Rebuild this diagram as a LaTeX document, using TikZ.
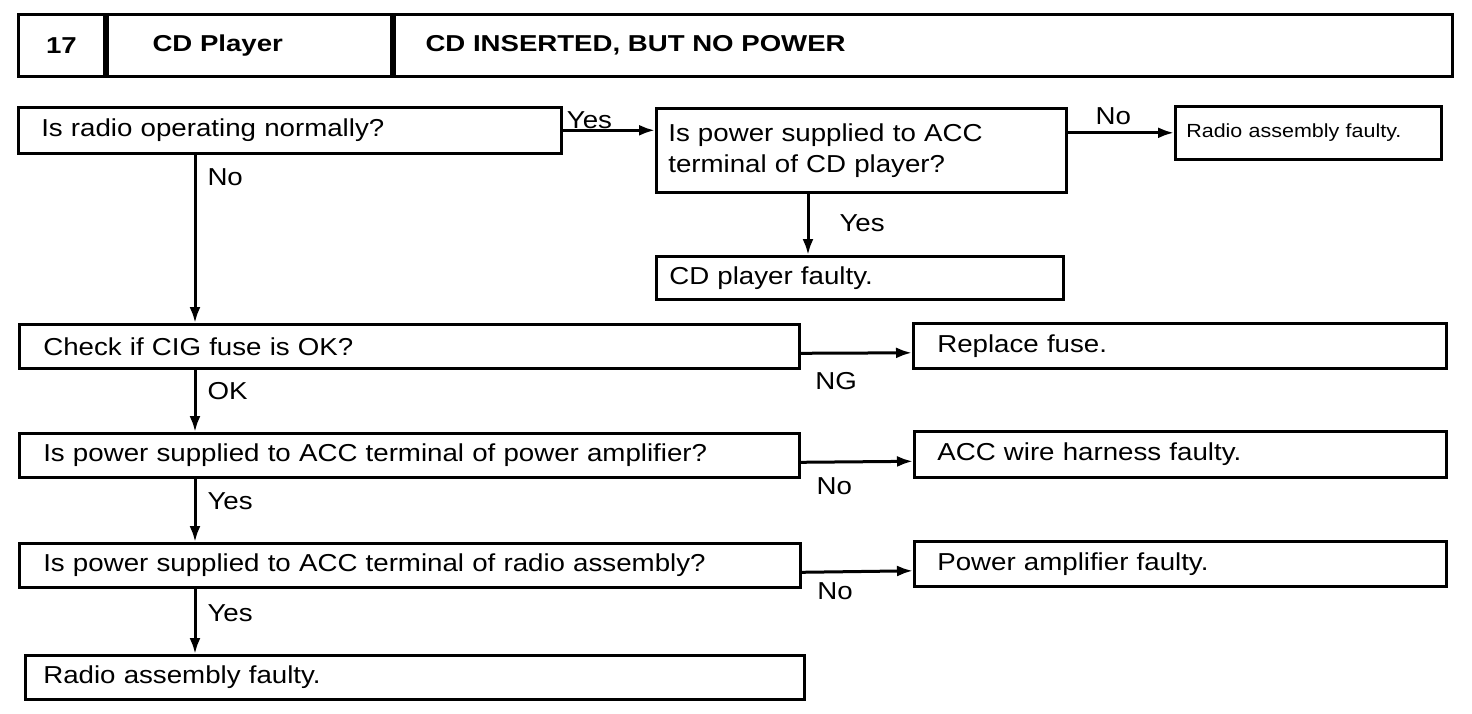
\documentclass[tikz,border=0pt]{standalone}
\usepackage{fontspec}
\setmainfont{Liberation Sans}[FakeStretch=1.13]
\newfontfamily\headfont{Liberation Sans}[FakeStretch=1.2]
\usetikzlibrary{arrows.meta}

\begin{document}
\begin{tikzpicture}[x=1pt, y=-1pt,
    box/.style={draw, line width=2.6pt, anchor=north west, align=left, inner ysep=3pt, font=\fontsize{24.5}{31}\selectfont},
    cell/.style={draw, line width=3pt, anchor=north west, minimum height=62pt, inner sep=0pt, font=\headfont\bfseries\fontsize{23}{28}\selectfont},
    arr/.style={-{Latex[length=16pt,width=11pt]}, line width=3pt},
    lbl/.style={inner sep=2pt, font=\fontsize{24.5}{31}\selectfont}]

\useasboundingbox (0,0) rectangle (1472,714);

% header
\node (hnum) at (17,13) [cell, minimum width=86pt] {17};
\node (hsys) at (hnum.north east) [cell, align=left, text width=194pt, inner xsep=45pt] {CD Player};
\node (htitle) at (hsys.north east) [cell, align=left, text width=996pt, inner xsep=31pt] {CD INSERTED, BUT NO POWER};

% questions and results
\node (q1) at (17,106) [box, text width=497pt, inner xsep=23pt, minimum height=46pt] {Is radio operating normally?};
\node (q2) at (655,107) [box, text width=386pt, inner xsep=12pt, minimum height=84pt] {Is power supplied to ACC\\terminal of CD player?};
\node (r1) at (655,255) [box, text width=381pt, inner xsep=13pt, minimum height=43pt] {CD player faulty.};
\node (r2) at (1174,105) [box, text width=244pt, inner xsep=11pt, minimum height=53pt, font=\fontsize{19}{24}\selectfont] {Radio assembly faulty.};
\node (q3) at (18,323) [box, text width=732pt, inner xsep=24pt, minimum height=44pt] {Check if CIG fuse is OK?};
\node (q4) at (18,432) [box, text width=732pt, inner xsep=24pt, minimum height=44pt] {Is power supplied to ACC terminal of power amplifier?};
\node (q5) at (18,542) [box, text width=733pt, inner xsep=24pt, minimum height=44pt] {Is power supplied to ACC terminal of radio assembly?};
\node (r6) at (24,654) [box, text width=743pt, inner xsep=18pt, minimum height=44pt] {Radio assembly faulty.};
\node (r3) at (912,322) [box, text width=485pt, inner xsep=24pt, minimum height=45pt] {Replace fuse.};
\node (r4) at (913,430) [box, text width=486pt, inner xsep=23pt, minimum height=46pt] {ACC wire harness faulty.};
\node (r5) at (913,540) [box, text width=486pt, inner xsep=23pt, minimum height=45pt] {Power amplifier faulty.};

% connectors
\coordinate (spine) at (195,0);
\coordinate (cdx) at (808,0);
\draw[arr] (q1.south -| spine) -- (q3.north -| spine) node[lbl, pos=0.135, right=9pt] {No};
\draw[arr] (q3.south -| spine) -- (q4.north -| spine) node[lbl, pos=0.35, right=9pt] {OK};
\draw[arr] (q4.south -| spine) -- (q5.north -| spine) node[lbl, pos=0.36, right=9pt] {Yes};
\draw[arr] (q5.south -| spine) -- (r6.north -| spine) node[lbl, pos=0.38, right=9pt] {Yes};

\draw[arr] (q1.east) -- (q2.west |- q1.east) node[lbl, pos=0.29, above, inner sep=0.5pt] {Yes};
\draw[arr] (q2.east |- r2.west) -- (r2.west) node[lbl, pos=0.43, above=5pt] {No};
\draw[arr] (q2.south -| cdx) -- (r1.north -| cdx) node[lbl, pos=0.48, right=28pt] {Yes};

\draw[arr] ([yshift=-7pt]q3.east) -- ([yshift=-7pt]r3.west) node[lbl, pos=0.32, below=16pt] {NG};
\draw[arr] ([yshift=-7pt]q4.east) -- ([yshift=-7pt]r4.west) node[lbl, pos=0.3, below=12pt] {No};
\draw[arr] ([yshift=-7pt]q5.east) -- ([yshift=-7pt]r5.west) node[lbl, pos=0.3, below=7pt] {No};
\end{tikzpicture}
\end{document}
